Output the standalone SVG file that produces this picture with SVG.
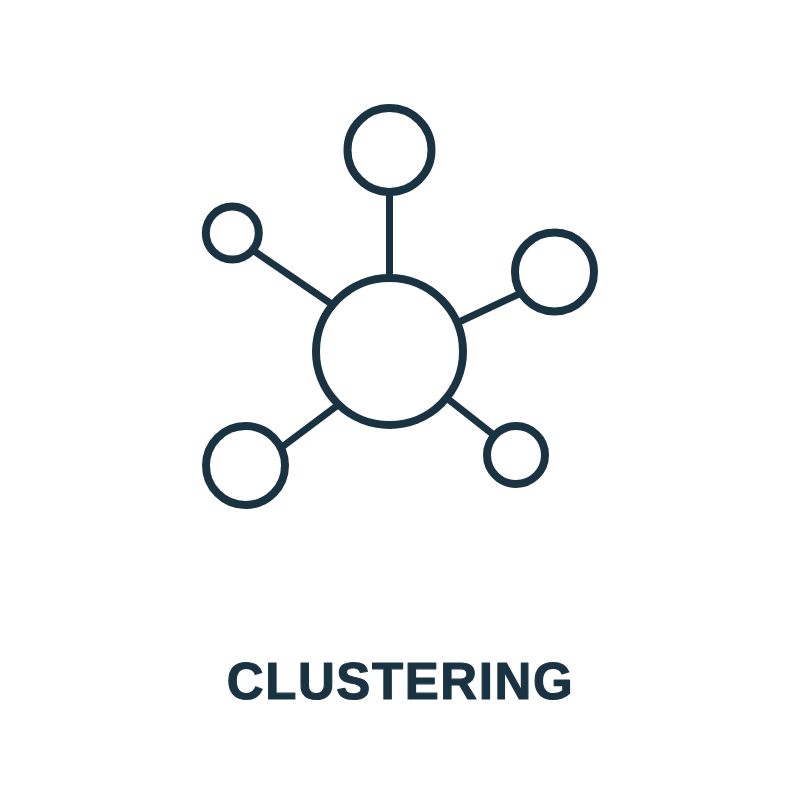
<svg xmlns="http://www.w3.org/2000/svg" width="800" height="800" viewBox="0 0 800 800">
<style>
.n{fill:#fff;stroke:#1a3342;stroke-width:8}
.c{stroke:#1a3342;stroke-width:7;fill:none}
.t{font-family:"Liberation Sans",Arial,sans-serif;font-weight:700;font-size:51px;letter-spacing:1.6px;fill:#1a3342;stroke:#1a3342;stroke-width:1.2;stroke-linejoin:round}
</style>
<rect width="800" height="800" fill="#fff"/>
<g id="connectors">
<line class="c" x1="389.500" y1="192" x2="389.500" y2="278"/>
<line class="c" x1="254" y1="251" x2="333" y2="305"/>
<line class="c" x1="519" y1="294" x2="459" y2="322"/>
<line class="c" x1="282" y1="447" x2="338" y2="405"/>
<line class="c" x1="495" y1="436" x2="448" y2="399"/>
</g>
<g id="node-center"><circle class="n" cx="389.500" cy="351.500" r="73.500"/></g>
<g id="node-top"><circle class="n" cx="389.500" cy="150" r="42"/></g>
<g id="node-left"><circle class="n" cx="232.300" cy="233" r="26.500"/></g>
<g id="node-right"><circle class="n" cx="554.500" cy="272" r="39.500"/></g>
<g id="node-bottom-left"><circle class="n" cx="245.500" cy="465.500" r="39.500"/></g>
<g id="node-bottom-right"><circle class="n" cx="516" cy="455" r="29"/></g>
<text id="label" class="t" x="400.500" y="698.500" text-anchor="middle">CLUSTERING</text>
</svg>
